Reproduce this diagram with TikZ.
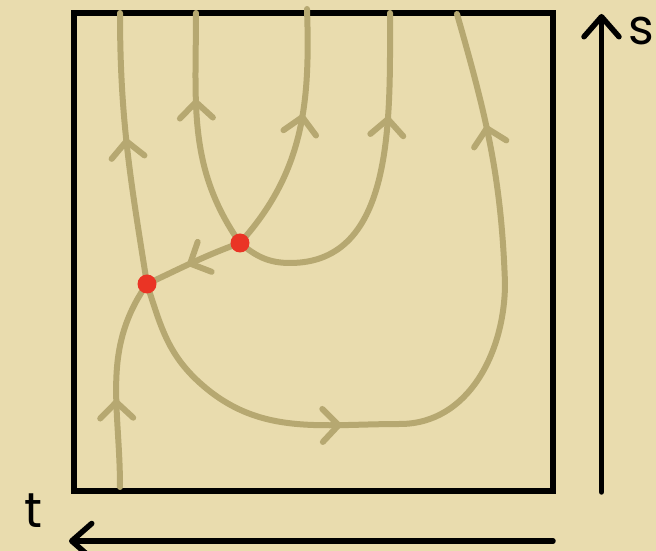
\documentclass[tikz,border=0pt]{standalone}
\usepackage{fontspec}
\setmainfont{Poppins}
\usetikzlibrary{arrows.meta,decorations.markings}
\definecolor{parchment}{RGB}{233,220,174}
\definecolor{olive}{RGB}{182,168,113}
\definecolor{dotred}{RGB}{234,52,37}
\tikzset{
  >={Straight Barb[length=3.2mm,width=6.6mm,round]},
  orbit/.style={draw=olive,line width=1.2mm,line cap=round,line join=round},
  marks/.style={postaction={decorate,decoration={markings,
    mark=at position #1 with {\arrow[olive,line width=1.2mm]{>}}}}},
  fixpt/.style={circle,fill=dotred,inner sep=0pt,minimum size=3.8mm},
  frame/.style={draw=black,line width=1.1mm},
  axisline/.style={draw=black,line width=1.1mm,line cap=round,
    -{Straight Barb[length=4mm,width=7mm,round]}},
  letter/.style={font=\fontsize{28}{28}\selectfont,text=black,inner sep=0pt},
}
\begin{document}
\begin{tikzpicture}
  \fill[parchment] (0,0) rectangle (13.12,11.02);
  \useasboundingbox (0,0) rectangle (13.12,11.02);
  \draw[frame] (1.48,1.2) rectangle (11.06,10.76);
  % saddle points
  \coordinate (p1) at (2.94,5.34);
  \coordinate (p2) at (4.8,6.16);
  % free ends on the frame
  \coordinate (inlow) at (2.4,1.28);
  \coordinate (outa) at (2.4,10.76);
  \coordinate (outb) at (3.92,10.76);
  \coordinate (outc) at (6.14,10.84);
  \coordinate (outd) at (7.8,10.76);
  \coordinate (oute) at (9.14,10.74);
  % trajectories
  \draw[orbit,marks=0.42] (inlow) to[out=90,in=235] (p1);
  \draw[orbit,marks=0.54] (p1) to[out=99,in=-90] (outa);
  \draw[orbit,marks=0.56] (p2) to[out=200,in=25] (p1);
  \draw[orbit,marks=0.64] (p2) to[out=125,in=-90] (outb);
  \draw[orbit,marks=0.58] (p2) to[out=48,in=-88] (outc);
  \draw[orbit,marks=0.71] (p2) to[out=-40,in=180] (5.8,5.76) to[out=0,in=-90] (outd);
  \draw[orbit,marks=0.335,marks=0.855] (p1) to[out=-72,in=138] (4.0,3.36)
    to[out=-42,in=180] (8.0,2.54) to[out=0,in=-90] (10.1,5.36)
    to[out=92,in=-74] (oute);
  \node[fixpt] (sad1) at (p1) {};
  \node[fixpt] (sad2) at (p2) {};
  % axes
  \coordinate (sfoot) at (12.03,1.18);
  \coordinate (shead) at (12.03,10.74);
  \draw[axisline] (sfoot) -- (shead);
  \node[letter] (slab) at (12.82,10.4) {s};
  \coordinate (tfoot) at (11.06,0.2);
  \coordinate (thead) at (1.38,0.2);
  \draw[axisline] (tfoot) -- (thead);
  \node[letter] (tlab) at (0.66,0.8) {t};
\end{tikzpicture}
\end{document}
